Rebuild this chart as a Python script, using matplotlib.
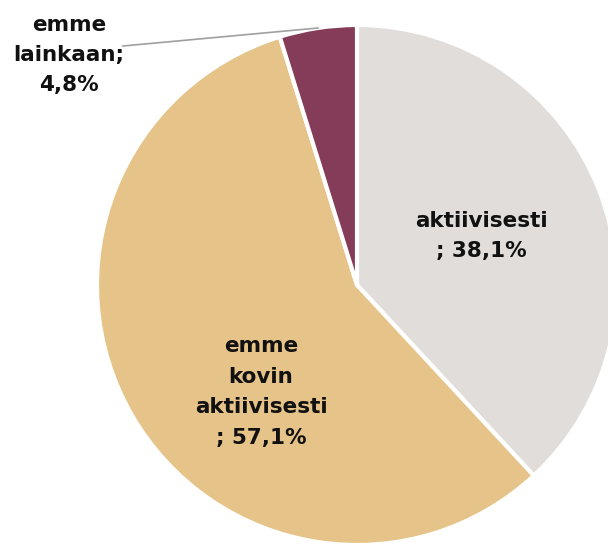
import matplotlib
matplotlib.use("Agg")
import matplotlib.pyplot as plt

categories = ["aktiivisesti", "emme kovin aktiivisesti", "emme lainkaan"]
values = [38.1, 57.1, 4.8]
labels = ["aktiivisesti\n; 38,1%", "emme\nkovin\naktiivisesti\n; 57,1%", "emme\nlainkaan;\n4,8%"]
colors = ["#E1DDDB", "#E6C388", "#843C58"]

W, H = 608, 544
fig = plt.figure(figsize=(W / 100, H / 100), dpi=100)
ax = fig.add_axes([0, 0, 1, 1])
ax.axis("off")

cx, cy, R = 357, 285, 260
wedges, _ = ax.pie(values, colors=colors, startangle=90, counterclock=False,
                   radius=1.0, wedgeprops=dict(edgecolor="white", linewidth=3))
ax.set_xlim(-cx / R, (W - cx) / R)
ax.set_ylim(-(H - cy) / R, cy / R)
ax.set_aspect("equal")

def px(x, y):
    return ((x - cx) / R, (cy - y) / R)

font = dict(fontsize=15.5, fontweight="bold", color="#111111", ha="center",
            va="center", linespacing=1.65, family="DejaVu Sans")
ax.text(*px(481, 236), labels[0], **font)
ax.text(*px(261, 392), labels[1], **font)
ax.text(*px(69, 55), labels[2], **font)

x0, y0 = px(123, 46)
x1, y1 = px(318, 28)
ax.plot([x0, x1], [y0, y1], color="#A0A0A0", linewidth=1.2)

fig.savefig("out.png", dpi=100)
